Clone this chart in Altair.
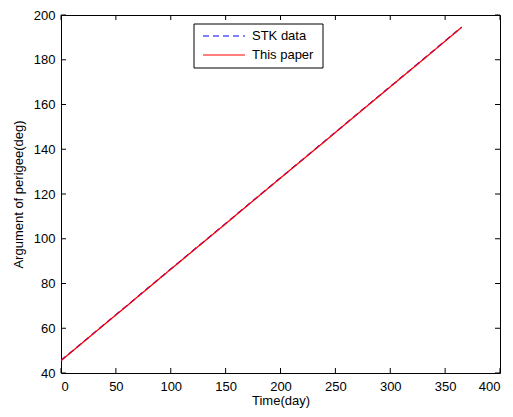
import altair as alt
import pandas as pd

days = [0, 30, 60, 90, 120, 150, 180, 210, 240, 270, 300, 330, 365]
stk = [45.6, 57.9, 70.1, 82.4, 94.6, 106.8, 119.1, 131.3, 143.5, 155.8, 168.0, 180.2, 194.6]
paper = [45.5, 57.8, 70.0, 82.3, 94.5, 106.7, 119.0, 131.2, 143.4, 155.7, 167.9, 180.1, 194.5]
series_names = ["STK data", "This paper"]
series_colors = ["#0000ff", "#ff0000"]
xticks = [0, 50, 100, 150, 200, 250, 300, 350, 400]
yticks = [40, 60, 80, 100, 120, 140, 160, 180, 200]

W, H = 439, 358
FONT = "Liberation Sans"
FS = 13

df = pd.DataFrame({
    "day": days * 2,
    "val": stk + paper,
    "series": [series_names[0]] * len(days) + [series_names[1]] * len(days),
})

xs = alt.Scale(domain=[0, 400], nice=False)
ys = alt.Scale(domain=[40, 200], nice=False)

lines = alt.Chart(df).mark_line(strokeWidth=1.3, clip=True).encode(
    x=alt.X("day:Q", scale=xs, title="Time(day)",
            axis=alt.Axis(values=xticks, tickSize=0, labelPadding=7, domain=False, grid=False,
                          titlePadding=1)),
    y=alt.Y("val:Q", scale=ys, title="Argument of perigee(deg)",
            axis=alt.Axis(values=yticks, tickSize=0, labelPadding=6, domain=False, grid=False,
                          titlePadding=8)),
    color=alt.Color("series:N", scale=alt.Scale(domain=series_names, range=series_colors), legend=None),
    strokeDash=alt.StrokeDash("series:N", scale=alt.Scale(domain=series_names, range=[[6, 4], [1, 0]]),
                              legend=None),
    order=alt.Order("series:N"),
)

xt = pd.DataFrame({"t": xticks})
yt = pd.DataFrame({"t": yticks})

xtick_b = alt.Chart(xt).mark_rule(color="black", strokeWidth=1).encode(
    x=alt.X("t:Q", scale=xs), y=alt.value(H), y2=alt.value(H - 5))
xtick_t = alt.Chart(xt).mark_rule(color="black", strokeWidth=1).encode(
    x=alt.X("t:Q", scale=xs), y=alt.value(0), y2=alt.value(5))
ytick_l = alt.Chart(yt).mark_rule(color="black", strokeWidth=1).encode(
    y=alt.Y("t:Q", scale=ys), x=alt.value(0), x2=alt.value(5))
ytick_r = alt.Chart(yt).mark_rule(color="black", strokeWidth=1).encode(
    y=alt.Y("t:Q", scale=ys), x=alt.value(W), x2=alt.value(W - 5))

# legend box (manual, MATLAB style)
leg_df = pd.DataFrame({"a": [0]})
leg_box = alt.Chart(leg_df).mark_rect(fill="white", stroke="black", strokeWidth=1).encode(
    x=alt.value(133), x2=alt.value(262), y=alt.value(9), y2=alt.value(53))
leg_l1 = alt.Chart(leg_df).mark_rule(color=series_colors[0], strokeWidth=1.2, strokeDash=[6, 4]).encode(
    x=alt.value(142), x2=alt.value(184), y=alt.value(21))
leg_l2 = alt.Chart(leg_df).mark_rule(color=series_colors[1], strokeWidth=1.2).encode(
    x=alt.value(142), x2=alt.value(184), y=alt.value(40))
leg_t1 = alt.Chart(leg_df).mark_text(text=series_names[0], align="left", baseline="middle",
                                     font=FONT, fontSize=FS, color="black").encode(
    x=alt.value(191), y=alt.value(21))
leg_t2 = alt.Chart(leg_df).mark_text(text=series_names[1], align="left", baseline="middle",
                                     font=FONT, fontSize=FS, color="black").encode(
    x=alt.value(191), y=alt.value(40))

chart = alt.layer(lines, xtick_b, xtick_t, ytick_l, ytick_r,
                  leg_box, leg_l1, leg_l2, leg_t1, leg_t2).properties(
    width=W, height=H,
    background="white",
    autosize=alt.AutoSizeParams(type="none"),
    padding={"left": 53, "top": 7, "right": 5, "bottom": 36},
).configure_view(stroke="black", strokeWidth=1).configure_axis(
    labelFont=FONT, labelFontSize=FS, labelColor="black",
    titleFont=FONT, titleFontSize=FS, titleColor="black", titleFontWeight="normal",
)

chart.save("out.html", embed_options={"renderer": "svg", "actions": False})
